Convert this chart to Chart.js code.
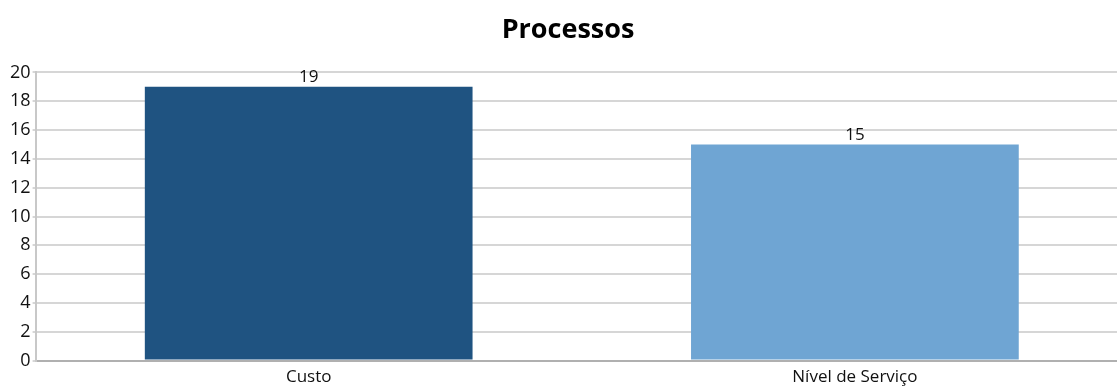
<!DOCTYPE html>
<html>
<head>
<meta charset="utf-8">
<script src="https://cdn.jsdelivr.net/npm/chart.js@4"></script>
<style>
  html, body { margin: 0; padding: 0; background: #fff; overflow: hidden; }
  #wrap { width: 1128px; height: 389px; }
</style>
</head>
<body>
<div id="wrap"><canvas id="processChart" width="1128" height="389"></canvas></div>
<script>
// chart values
var categories = ['Custo', 'Nível de Serviço'];
var counts = [19, 15];
var barColors = ['#1f5381', '#6fa5d3'];
var yTicks = [0, 2, 4, 6, 8, 10, 12, 14, 16, 18, 20];

var fontFamily = '"Open Sans", "DejaVu Sans", sans-serif';

// draws the value above each bar
var valueLabels = {
  id: 'valueLabels',
  afterDatasetsDraw: function(chart) {
    var ctx = chart.ctx;
    var meta = chart.getDatasetMeta(0);
    ctx.save();
    ctx.font = '17px ' + fontFamily;
    ctx.fillStyle = '#111';
    ctx.textAlign = 'center';
    ctx.textBaseline = 'bottom';
    meta.data.forEach(function(bar, i) {
      ctx.fillText(counts[i], bar.x, bar.y - 1);
    });
    ctx.restore();
  }
};

var ctx = document.getElementById('processChart').getContext('2d');
var processChart = new Chart(ctx, {
  type: 'bar',
  data: {
    labels: categories,
    datasets: [{
      label: 'Processos',
      data: counts,
      backgroundColor: barColors,
      borderWidth: 0,
      barPercentage: 0.6,
      categoryPercentage: 1
    }]
  },
  options: {
    responsive: false,
    animation: false,
    layout: { padding: { left: 8, right: 0, top: 6, bottom: -4 } },
    plugins: {
      legend: { display: false },
      tooltip: { enabled: false },
      title: {
        display: true,
        text: 'Processos',
        color: '#000',
        font: { family: fontFamily, size: 27, weight: 'bold' },
        padding: { top: 8, bottom: 26 }
      }
    },
    scales: {
      x: {
        grid: { display: false, drawTicks: false },
        border: { color: '#b0b0b0', width: 2 },
        ticks: { color: '#111', font: { family: fontFamily, size: 17 }, padding: 6 }
      },
      y: {
        min: 0,
        max: 20,
        afterBuildTicks: function(axis) {
          axis.ticks = yTicks.map(function(v) { return { value: v }; });
        },
        grid: { color: '#d6d6d6', lineWidth: 2, tickLength: 3 },
        border: { color: '#c8c8c8', width: 2 },
        ticks: { color: '#111', font: { family: fontFamily, size: 18 }, padding: 2 }
      }
    }
  },
  plugins: [valueLabels]
});
</script>
</body>
</html>
